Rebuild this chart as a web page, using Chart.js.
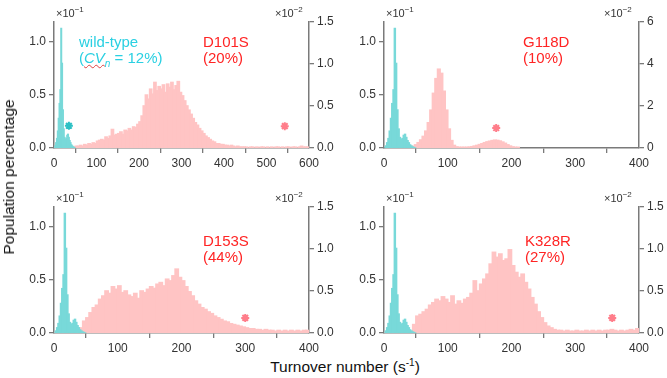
<!DOCTYPE html>
<html>
<head>
<meta charset="utf-8">
<script src="https://cdn.jsdelivr.net/npm/chart.js@4"></script>
<style>
  body { margin:0; width:667px; height:378px; position:relative; background:#fff; overflow:hidden;
         font-family:"Liberation Sans", Arial, sans-serif; }
  canvas { position:absolute; }
  .t { position:absolute; white-space:nowrap; }
  .mul { font-size:11px; color:#333; line-height:11px; }
  .mul span { font-size:8px; position:relative; top:-5px; }
  .lab { font-size:15px; line-height:16px; color:#ff2424; }
  .wt { color:#2ad0e2; }
  .cv { text-decoration: underline wavy #e04040; text-decoration-thickness:1px; }
  .ttl { font-size:15.5px; color:#111; }
</style>
</head>
<body>
<canvas id="c1" width="336" height="172" style="left:0;top:0"></canvas>
<canvas id="c2" width="336" height="172" style="left:330px;top:0"></canvas>
<canvas id="c3" width="336" height="172" style="left:0;top:185px"></canvas>
<canvas id="c4" width="336" height="172" style="left:330px;top:185px"></canvas>

<div class="t mul" style="left:56px;top:8px">×10<span>−1</span></div>
<div class="t mul" style="left:275px;top:8px">×10<span>−2</span></div>
<div class="t mul" style="left:386px;top:8px">×10<span>−1</span></div>
<div class="t mul" style="left:604px;top:8px">×10<span>−2</span></div>
<div class="t mul" style="left:56px;top:193px">×10<span>−1</span></div>
<div class="t mul" style="left:275px;top:193px">×10<span>−2</span></div>
<div class="t mul" style="left:386px;top:193px">×10<span>−1</span></div>
<div class="t mul" style="left:604px;top:193px">×10<span>−2</span></div>

<div class="t lab wt" style="left:79px;top:34px">wild-type<br>(<span class="cv"><i>CV</i><sub style="font-size:10px"><i>n</i></sub></span> = 12%)</div>
<div class="t lab" style="left:203px;top:34px">D101S<br>(20%)</div>
<div class="t lab" style="left:523px;top:34px">G118D<br>(10%)</div>
<div class="t lab" style="left:203px;top:233px">D153S<br>(44%)</div>
<div class="t lab" style="left:525px;top:233px">K328R<br>(27%)</div>

<div class="t ttl" style="left:9px;top:177px;transform:translate(-50%,-50%) rotate(-90deg)">Population percentage</div>
<div class="t ttl" style="left:345px;top:358px;transform:translateX(-50%)">Turnover number (s<span style="font-size:10px;position:relative;top:-6px">-1</span>)</div>

<script>
// wild-type histogram (x10^-1, left axis), 2 s-1 bins from 0
var wtStart = 0, wtWidth = 2;
var wildType = [0, 0.02, 0.05, 0.09, 0.16, 0.28, 0.42, 0.55, 1.13, 0.80, 0.36, 0.18, 0.10,
  0.08, 0.09, 0.12, 0.13, 0.10, 0.07, 0.05, 0.03, 0.02, 0.01, 0.005, 0];

// mutant histograms (x10^-2, right axis)
var d101sStart = 0, d101sWidth = 5;
var d101s = [0, 0, 0, 0, 0, 0, 0, 0, 0.01, 0.01,
  0.02, 0.02, 0.03, 0.02, 0.04, 0.03, 0.05, 0.04, 0.06, 0.05,
  0.08, 0.09, 0.10, 0.09, 0.13, 0.11, 0.14, 0.22, 0.15, 0.16,
  0.17, 0.19, 0.16, 0.21, 0.20, 0.23, 0.21, 0.25, 0.24, 0.28,
  0.31, 0.38, 0.50, 0.63, 0.58, 0.70, 0.64, 0.78, 0.68, 0.73,
  0.70, 0.75, 0.66, 0.76, 0.72, 0.78, 0.69, 0.74, 0.79, 0.66,
  0.62, 0.56, 0.50, 0.45, 0.40, 0.35, 0.30, 0.27, 0.23, 0.20,
  0.17, 0.14, 0.12, 0.10, 0.08, 0.07, 0.05, 0.05, 0.04, 0.04,
  0.03, 0.03, 0.02, 0.03, 0.02, 0.01, 0.02, 0.01, 0.01, 0.01,
  0.01, 0, 0.01, 0.01, 0, 0.01, 0, 0.01, 0.01, 0,
  0.01, 0, 0.01, 0, 0.01, 0.01, 0, 0.01, 0, 0.01,
  0.01, 0, 0.01, 0.01, 0, 0.01, 0.02, 0.01, 0.01, 0.01];

var g118dStart = 40, g118dWidth = 4;
var g118d = [0.03, 0.08, 0.15, 0.25, 0.38, 0.55, 0.80, 1.20, 1.80, 2.60,
  3.30, 3.75, 3.55, 2.70, 1.80, 0.90, 0.35, 0.12, 0.05, 0.03,
  0.02, 0.02, 0.03, 0.04, 0.06, 0.09, 0.12, 0.16, 0.20, 0.25,
  0.29, 0.32, 0.35, 0.37, 0.36, 0.33, 0.28, 0.22, 0.15, 0.09,
  0.05, 0.02, 0.01];

var d153sStart = 0, d153sWidth = 5;
var d153s = [0, 0, 0, 0, 0, 0, 0, 0.03, 0.06, 0.14,
  0.18, 0.24, 0.30, 0.33, 0.40, 0.44, 0.50, 0.47, 0.55, 0.52,
  0.56, 0.48, 0.50, 0.45, 0.43, 0.47, 0.41, 0.50, 0.48, 0.52,
  0.55, 0.53, 0.58, 0.60, 0.56, 0.64, 0.62, 0.68, 0.76, 0.66,
  0.62, 0.55, 0.49, 0.44, 0.38, 0.34, 0.30, 0.28, 0.25, 0.23,
  0.20, 0.18, 0.16, 0.14, 0.13, 0.11, 0.10, 0.09, 0.08, 0.07,
  0.06, 0.05, 0.05, 0.04, 0.04, 0.03, 0.04, 0.03, 0.03, 0.02,
  0.03, 0.02, 0.03, 0.02, 0.03, 0.02, 0.03, 0.02, 0.03, 0.03];

var k328rStart = 0, k328rWidth = 5;
var k328r = [0, 0, 0, 0, 0, 0, 0, 0, 0, 0.10,
  0.20, 0.22, 0.25, 0.28, 0.33, 0.36, 0.40, 0.38, 0.43, 0.40,
  0.36, 0.44, 0.34, 0.38, 0.35, 0.40, 0.42, 0.47, 0.62, 0.50,
  0.58, 0.64, 0.70, 0.82, 0.96, 0.90, 0.94, 0.86, 0.88, 0.99,
  0.80, 0.72, 0.66, 0.70, 0.60, 0.52, 0.42, 0.34, 0.25, 0.18,
  0.12, 0.08, 0.06, 0.04, 0.03, 0.03, 0.02, 0.03, 0.02, 0.02,
  0.03, 0.02, 0.02, 0.03, 0.02, 0.03, 0.02, 0.03, 0.02, 0.03,
  0.03, 0.04, 0.03, 0.02, 0.03, 0.02, 0.03, 0.04, 0.03, 0.05];

// asterisk markers {x, y}
var wtStar = {x: 35, y: 0.21};
var d101sStar = {x: 543, y: 0.26};
var g118dStar = {x: 176, y: 0.95};
var d153sStar = {x: 300, y: 0.18};
var k328rStar = {x: 358, y: 0.18};

var axisColor = '#7a7a7a';
var tickColor = '#333';
var cyan = '#78d9d9';
var pink = '#ffc4c4';
var tickFont = {family: 'Liberation Sans', size: 12};

// one bar per bin, placed at the bin centre
function histBars(vals, start, width) {
  var pts = [];
  for (var i = 0; i < vals.length; i++) {
    pts.push({x: start + (i + 0.5) * width, y: vals[i]});
  }
  return pts;
}

function makePanel(id, mut, start, width, star, xMax, rMax, rStep, rDigits, showWtStar) {
  var datasets = [];
  datasets.push({type: 'scatter', data: [star], xAxisID: 'x', yAxisID: 'y2', pointStyle: 'star',
    pointRadius: 4, borderColor: '#ff7d8a', backgroundColor: '#ff7d8a', borderWidth: 2});
  if (showWtStar) {
    datasets.push({type: 'scatter', data: [wtStar], xAxisID: 'x', yAxisID: 'y', pointStyle: 'star',
      pointRadius: 4, borderColor: '#2cc0c4', backgroundColor: '#2cc0c4', borderWidth: 2});
  }
  // wild-type on its own (hidden) x axis so its narrower bins keep their own width
  // inflateAmount closes the hairline gaps between neighbouring bins
  datasets.push({type: 'bar', data: histBars(wildType, wtStart, wtWidth), xAxisID: 'x2', yAxisID: 'y',
    backgroundColor: cyan, borderWidth: 0, barPercentage: 1, categoryPercentage: 1, grouped: false,
    inflateAmount: 0.6});
  datasets.push({type: 'bar', data: histBars(mut, start, width), xAxisID: 'x', yAxisID: 'y2',
    backgroundColor: pink, borderWidth: 0, barPercentage: 1, categoryPercentage: 1, grouped: false,
    inflateAmount: 0.8});

  var grid = {drawOnChartArea: false, drawTicks: true, tickLength: 5, color: axisColor, lineWidth: 1.3};
  var border = {color: axisColor, width: 1.5};

  new Chart(document.getElementById(id), {
    type: 'bar',
    data: {datasets: datasets},
    options: {
      responsive: false,
      animation: false,
      events: [],
      layout: {padding: {top: 22, left: 0, right: 0, bottom: 0}},
      plugins: {legend: {display: false}, tooltip: {enabled: false}},
      scales: {
        x: {type: 'linear', min: 0, max: xMax, offset: false, grid: grid, border: border,
          ticks: {stepSize: 100, color: tickColor, font: tickFont, padding: 3, maxRotation: 0},
          afterFit: function(s) { s.height = 24; }},
        x2: {type: 'linear', min: 0, max: xMax, offset: false, display: false},
        y: {position: 'left', min: 0, max: 1.19, grid: grid, border: border,
          ticks: {stepSize: 0.5, includeBounds: false, color: tickColor, font: tickFont, padding: 3,
            callback: function(v) { return v.toFixed(1); }},
          afterFit: function(s) { s.width = 54; }},
        y2: {position: 'right', min: 0, max: rMax, grid: grid, border: border,
          ticks: {stepSize: rStep, includeBounds: false, color: tickColor, font: tickFont, padding: 3,
            callback: function(v) { return v.toFixed(rDigits); }},
          afterFit: function(s) { s.width = 27; }}
      }
    }
  });
}

makePanel('c1', d101s, d101sStart, d101sWidth, d101sStar, 600, 1.5, 0.5, 1, true);
makePanel('c2', g118d, g118dStart, g118dWidth, g118dStar, 400, 6, 2, 0, false);
makePanel('c3', d153s, d153sStart, d153sWidth, d153sStar, 400, 1.5, 0.5, 1, false);
makePanel('c4', k328r, k328rStart, k328rWidth, k328rStar, 400, 1.5, 0.5, 1, false);
</script>
</body>
</html>
